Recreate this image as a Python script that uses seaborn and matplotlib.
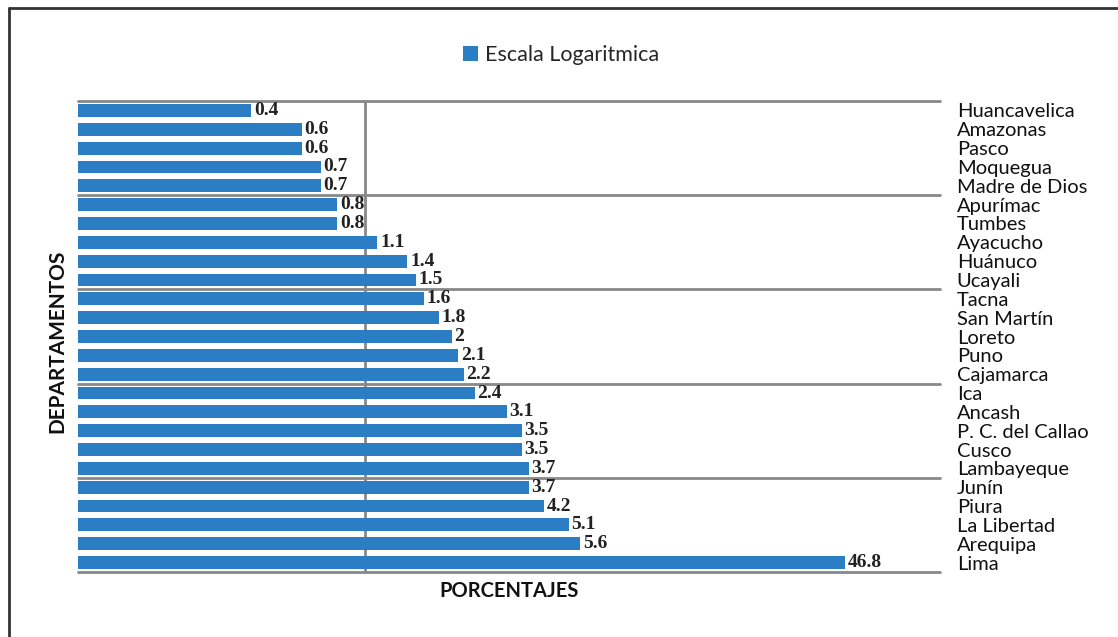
import matplotlib
matplotlib.use("Agg")
import matplotlib.pyplot as plt
import seaborn as sns
from matplotlib.lines import Line2D

# data (top to bottom)
departamentos = ["Huancavelica", "Amazonas", "Pasco", "Moquegua", "Madre de Dios",
                 "Apurímac", "Tumbes", "Ayacucho", "Huánuco", "Ucayali",
                 "Tacna", "San Martín", "Loreto", "Puno", "Cajamarca",
                 "Ica", "Ancash", "P. C. del Callao", "Cusco", "Lambayeque",
                 "Junín", "Piura", "La Libertad", "Arequipa", "Lima"]
porcentajes = [0.4, 0.6, 0.6, 0.7, 0.7,
               0.8, 0.8, 1.1, 1.4, 1.5,
               1.6, 1.8, 2, 2.1, 2.2,
               2.4, 3.1, 3.5, 3.5, 3.7,
               3.7, 4.2, 5.1, 5.6, 46.8]
etiquetas = ["0.4", "0.6", "0.6", "0.7", "0.7",
             "0.8", "0.8", "1.1", "1.4", "1.5",
             "1.6", "1.8", "2", "2.1", "2.2",
             "2.4", "3.1", "3.5", "3.5", "3.7",
             "3.7", "4.2", "5.1", "5.6", "46.8"]

sns.set_style("white")
plt.rcParams["font.family"] = ["Lato", "DejaVu Sans"]

fig = plt.figure(figsize=(11.18, 6.37), dpi=100)
ax = fig.add_axes([78 / 1118, 1 - 572 / 637, 862 / 1118, 471 / 637])

sns.barplot(x=porcentajes, y=departamentos, orient="h", color="#2B7EC4",
            width=0.68, saturation=1, linewidth=0, label="Escala Logaritmica", ax=ax)
ax.set_xscale("log")
ax.set_xlim(0.1, 100)
ax.set_ylim(24.5, -0.5)

# value labels
ax.bar_label(ax.containers[0], labels=etiquetas, padding=2,
             fontfamily="Liberation Serif", fontweight="bold", fontsize=14,
             color="#222222")

# grid: vertical line at 1, horizontal every 5 categories
ax.axvline(1, color="#888888", lw=2, zorder=0)
for k in range(0, 26, 5):
    ax.axhline(k - 0.5, color="#888888", lw=2, zorder=0, clip_on=False)

for s in ax.spines.values():
    s.set_visible(False)
ax.set_xticks([])
ax.xaxis.set_minor_locator(matplotlib.ticker.NullLocator())
ax.yaxis.tick_right()
ax.tick_params(axis="y", length=0, pad=12, labelsize=14.5, labelcolor="#111111")

ax.set_xlabel("PORCENTAJES", fontsize=14.5, fontweight="bold", color="#111111")
ax.xaxis.set_label_coords(0.5, -0.02)
ax.set_ylabel("DEPARTAMENTOS", fontsize=15, fontweight="bold", color="#111111")
ax.yaxis.set_label_position("left")
ax.yaxis.set_label_coords(-0.012, 0.49)

ax.legend(loc="upper center", bbox_to_anchor=(561 / 1118, 1 - 26 / 637),
          bbox_transform=fig.transFigure, frameon=False, fontsize=15.5,
          handlelength=0.7, handleheight=0.7, handletextpad=0.3)

# outer frame (left and top edges)
fig.add_artist(Line2D([9 / 1118, 9 / 1118], [0, 1 - 8 / 637], transform=fig.transFigure,
                      color="#333333", lw=2))
fig.add_artist(Line2D([9 / 1118, 1], [1 - 8 / 637, 1 - 8 / 637], transform=fig.transFigure,
                      color="#333333", lw=2))

fig.savefig("out.png", dpi=100)
